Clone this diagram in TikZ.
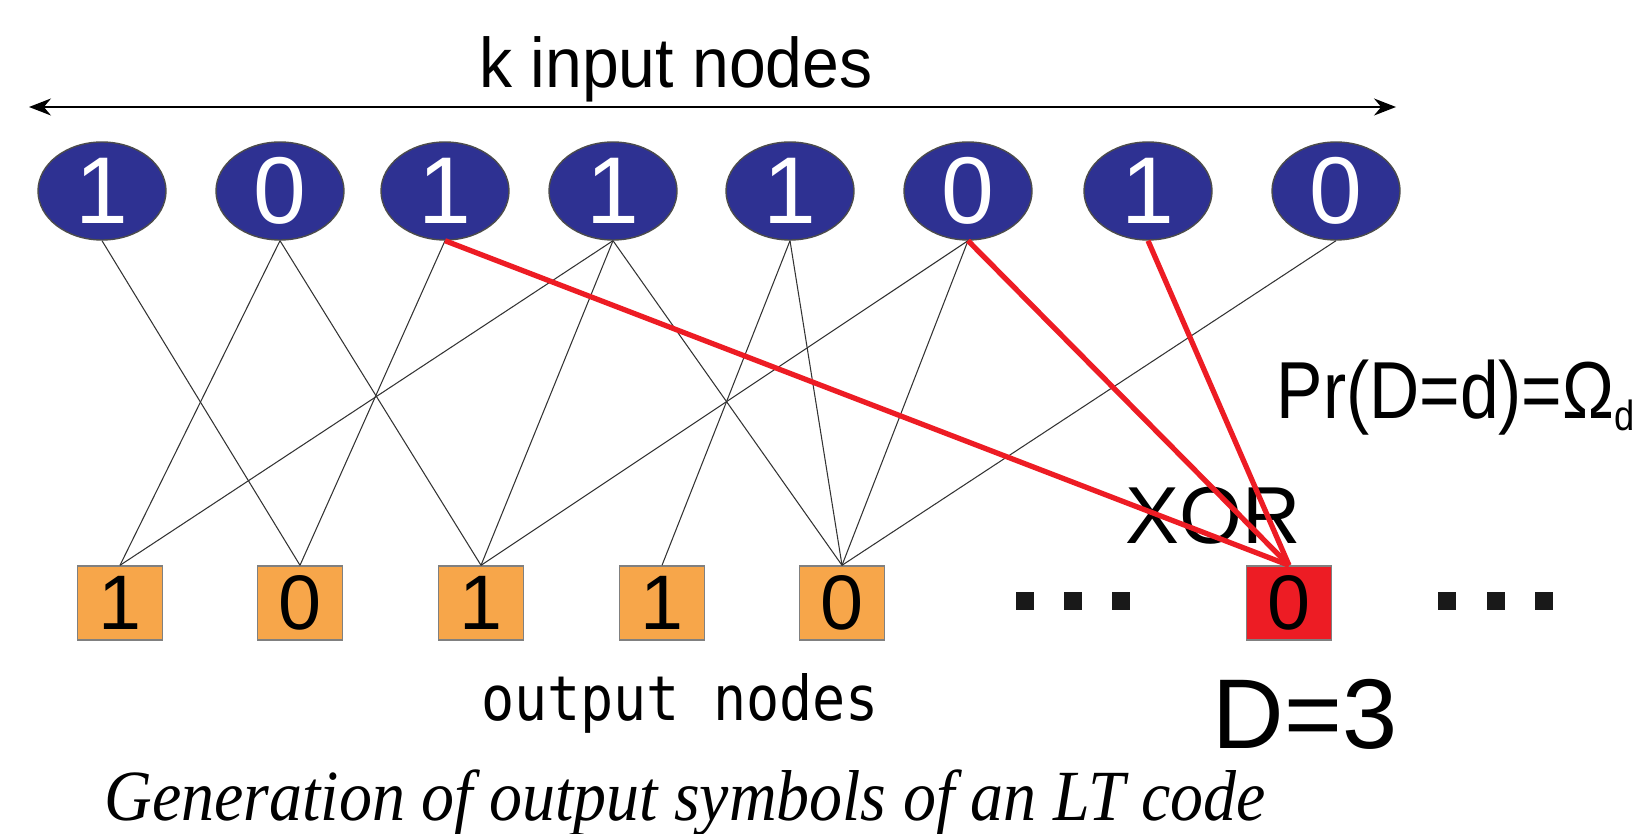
\documentclass[tikz,border=0pt]{standalone}
\usepackage{fontspec}
\setmainfont{Liberation Sans}
\newfontfamily\captionfont{Liberation Serif}
\newfontfamily\monofont{DejaVu Sans Mono}
\usepackage{graphicx}
\usepackage{tikz}
\usetikzlibrary{shapes.geometric,arrows.meta,positioning}
\definecolor{inblue}{RGB}{46,49,146}
\definecolor{outorange}{RGB}{247,166,74}
\definecolor{xorred}{RGB}{237,28,36}
\newcommand{\narrowtext}[2]{\scalebox{#1}[1]{#2}}

\begin{document}
\begin{tikzpicture}[
    x=0.1mm, y=-0.1mm,
    innode/.style={ellipse, draw=black!70, line width=0.4pt, fill=inblue, text=white, minimum width=12.8mm, minimum height=9.8mm, inner sep=0pt, font=\fontsize{27}{27}\selectfont},
    outnode/.style={rectangle, draw=black!50, line width=0.4pt, fill=outorange, minimum width=8.5mm, minimum height=7.4mm, inner sep=0pt, font=\fontsize{22}{22}\selectfont},
    dotnode/.style={rectangle, fill=black!90, minimum size=1.8mm, inner sep=0pt},
    link/.style={draw=black!80, line width=0.3pt},
    xorlink/.style={draw=xorred, line width=1.5pt},
    span/.style={{Stealth[length=2.2mm,width=1.7mm]}-{Stealth[length=2.2mm,width=1.7mm]}, line width=0.5pt}
]
    \useasboundingbox (0,0) rectangle (1636,834);

    \node[anchor=base, font=\fontsize{20}{20}\selectfont] (klabel) at (676,88) {\narrowtext{0.94}{k input nodes}};
    \coordinate (kleft) at (29,107);
    \coordinate (kright) at (1396,107);
    \draw[span] (kleft) -- (kright);

    \node[innode] (i1) at (102,191) {1};
    \node[innode] (i2) at (280,191) {0};
    \node[innode] (i3) at (445,191) {1};
    \node[innode] (i4) at (613,191) {1};
    \node[innode] (i5) at (790,191) {1};
    \node[innode] (i6) at (968,191) {0};
    \node[innode] (i7) at (1148,191) {1};
    \node[innode] (i8) at (1336,191) {0};

    \node[outnode] (o1) at (120,603) {1};
    \node[outnode] (o2) at (300,603) {0};
    \node[outnode] (o3) at (481,603) {1};
    \node[outnode] (o4) at (662,603) {1};
    \node[outnode] (o5) at (842,603) {0};
    \node[outnode, fill=xorred] (od) at (1289,603) {0};

    \foreach \x [count=\n] in {1025,1073,1121}
        \node[dotnode] (ldot\n) at (\x,601) {};
    \foreach \x [count=\n] in {1447,1496,1544}
        \node[dotnode] (rdot\n) at (\x,601) {};

    \foreach \a/\b in {i1/o2, i2/o1, i2/o3, i3/o2, i4/o1, i4/o3, i4/o5, i5/o4, i5/o5, i6/o3, i6/o5, i8/o5}
        \draw[link] (\a.south) -- (\b.north);

    \node[anchor=base west, inner sep=0pt, font=\fontsize{23}{23}\selectfont] (prlabel) at (1276,418) {\narrowtext{0.86}{Pr(D=d)=Ω\raisebox{-3.5pt}{\fontsize{12}{12}\selectfont d}}};
    \node[anchor=base, font=\fontsize{23}{23}\selectfont] (xorlabel) at (1213,543) {XOR};

    \foreach \a in {i3, i6, i7}
        \draw[xorlink] (\a.south) -- (od.north);

    \node[anchor=base, font=\fontsize{28.2}{28}\selectfont] (dlabel) at (1305,748) {D=3};
    \node[anchor=base, font=\monofont\fontsize{17.6}{18}\selectfont] (outlabel) at (680,720) {\narrowtext{0.89}{output nodes}};
    \node[anchor=base west, inner sep=0pt, font=\captionfont\itshape\fontsize{20.5}{21}\selectfont] (caption) at (104,820) {\narrowtext{0.915}{Generation of output symbols of an LT code}};
\end{tikzpicture}
\end{document}
